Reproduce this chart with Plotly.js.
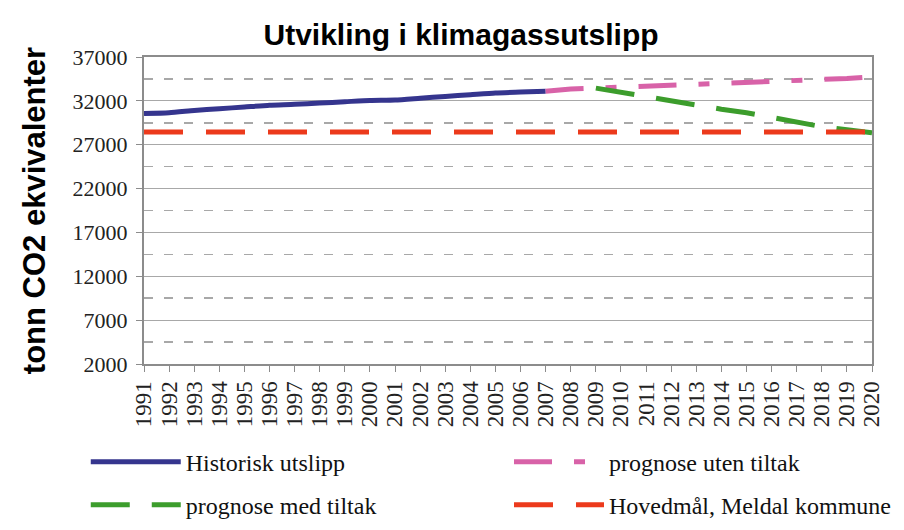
<!DOCTYPE html>
<html>
<head>
<meta charset="utf-8">
<script src="https://cdn.plot.ly/plotly-3.0.1.min.js"></script>
<style>html,body{margin:0;padding:0;background:#fff;}#chart{width:904px;height:530px;}</style>
</head>
<body>
<div id="chart"></div>
<script>
// Data
const years = [1991,1992,1993,1994,1995,1996,1997,1998,1999,2000,2001,2002,2003,2004,2005,2006,2007,2008,2009,2010,2011,2012,2013,2014,2015,2016,2017,2018,2019,2020];

const histYears = [1991,1992,1993,1994,1995,1996,1997,1998,1999,2000,2001,2002,2003,2004,2005,2006,2007];
const historisk = [30550,30650,30900,31100,31300,31500,31600,31750,31900,32050,32100,32300,32500,32700,32900,33000,33100];

const utenYears = [2007,2008,2009,2010,2011,2012,2013,2014,2015,2016,2017,2018,2019,2020];
const utenTiltak = [33100,33350,33450,33550,33650,33800,33900,34000,34050,34150,34300,34400,34550,34750];

const medYears = [2009,2010,2011,2012,2013,2014,2015,2016,2017,2018,2019,2020];
const medTiltak = [33450,32950,32500,31950,31500,31050,30650,30100,29500,29050,28700,28350];

const maalYears = [1991,2020];
const hovedmaal = [28450,28450];

const seriesNames = ["Historisk utslipp","prognose uten tiltak","prognose med tiltak","Hovedmål, Meldal kommune"];
const yTicks = [2000,7000,12000,17000,22000,27000,32000,37000];
const yMinorTicks = [4500,9500,14500,19500,24500,29500,34500];

const serif = 'Liberation Serif, Times New Roman, serif';
const sans = 'Liberation Sans, Arial, sans-serif';

const traces = [
  {x: histYears, y: historisk, name: seriesNames[0], type:'scatter', mode:'lines', legend:'legend',
   line:{color:'#35358e', width:5, shape:'spline', smoothing:0.6}},
  {x: utenYears, y: utenTiltak, name: seriesNames[1], type:'scatter', mode:'lines', legend:'legend2',
   line:{color:'#d862a8', width:5, dash:'38px,22px,11px,22px'}},
  {x: medYears, y: medTiltak, name: seriesNames[2], type:'scatter', mode:'lines', legend:'legend3',
   line:{color:'#3c9d2c', width:5, dash:'39px,22px'}},
  {x: maalYears, y: hovedmaal, name: seriesNames[3], type:'scatter', mode:'lines', legend:'legend4',
   line:{color:'#ec3a1c', width:5, dash:'39px,23px'}}
];

const legendBase = {orientation:'h', xanchor:'left', yanchor:'middle', itemwidth:90,
  font:{family:serif, size:24, color:'#111'}, bgcolor:'rgba(0,0,0,0)'};
const col1 = -0.08, col2 = 0.5014, row1 = -0.32, row2 = -0.46;

const layout = {
  width:904, height:530,
  paper_bgcolor:'#ffffff', plot_bgcolor:'#ffffff',
  margin:{l:144, r:32, t:57, b:166, autoexpand:false},
  title:{text:'<b>Utvikling i klimagassutslipp</b>', font:{family:sans, size:30, color:'#000'},
         x:0.51, xanchor:'center', y:0.935, yanchor:'middle'},
  xaxis:{range:[1991,2020], tickvals:years, ticktext:years.map(String), tickangle:-90,
         tickfont:{family:serif, size:23, color:'#222'}, automargin:false,
         showgrid:false, zeroline:false, showline:true, linecolor:'#8c8c8c', linewidth:2,
         ticks:'outside', ticklen:6, tickcolor:'#8c8c8c', mirror:true},
  yaxis:{range:[2000,37000], tickvals:yTicks, tickformat:'d', automargin:false,
         tickfont:{family:serif, size:22, color:'#222'}, ticklabelstandoff:4,
         title:{text:'<b>tonn CO2 ekvivalenter</b>', font:{family:sans, size:31, color:'#000'}, standoff:18},
         showgrid:true, gridcolor:'#a8a8a8', gridwidth:1,
         minor:{tickvals:yMinorTicks, showgrid:true, gridcolor:'#a8a8a8', gridwidth:1.5, griddash:'9px,11px', ticks:''},
         zeroline:false, showline:true, linecolor:'#8c8c8c', linewidth:2, mirror:true,
         ticks:'outside', ticklen:6, tickcolor:'#8c8c8c'},
  showlegend:true,
  legend:Object.assign({}, legendBase, {x:col1, y:row1}),
  legend2:Object.assign({}, legendBase, {x:col2, y:row1}),
  legend3:Object.assign({}, legendBase, {x:col1, y:row2}),
  legend4:Object.assign({}, legendBase, {x:col2, y:row2})
};

Plotly.newPlot('chart', traces, layout, {displayModeBar:false, staticPlot:true});
</script>
</body>
</html>
